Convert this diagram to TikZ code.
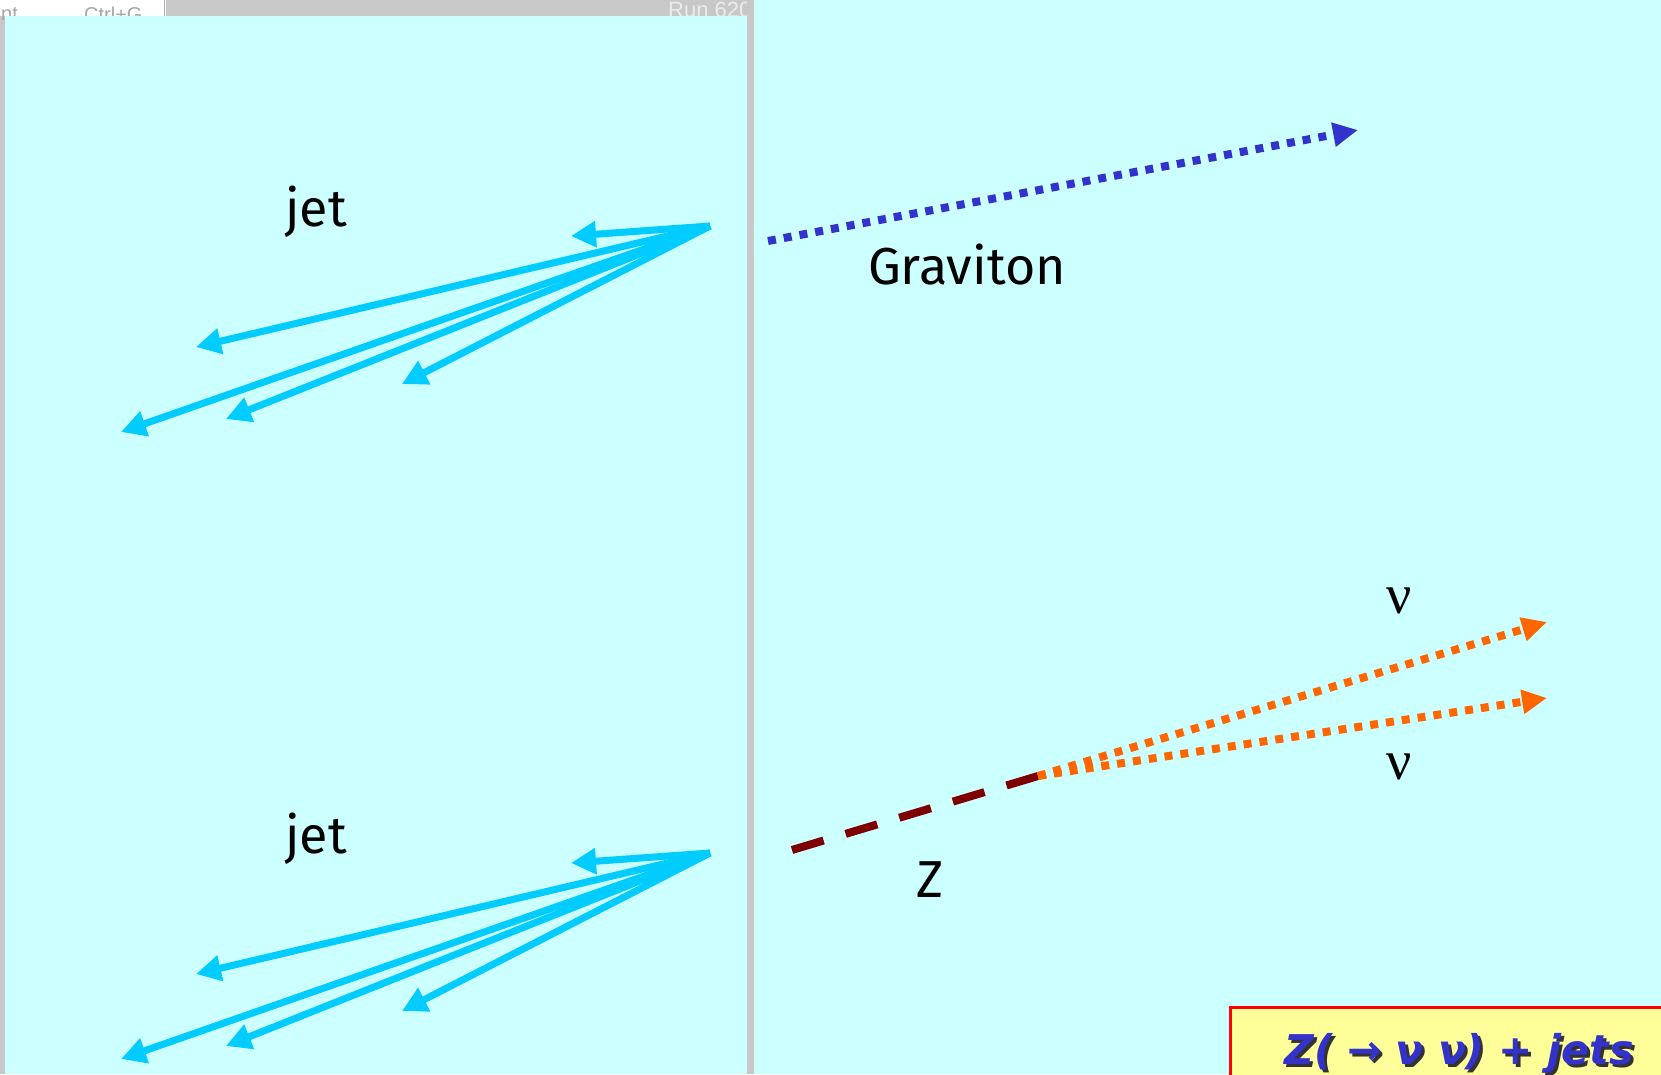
\documentclass[tikz,border=0pt]{standalone}
\usepackage{fontspec}
\usetikzlibrary{arrows.meta}
\newfontfamily\comicfont{Fira Sans}
\newfontfamily\nufont{Liberation Serif}
\newfontfamily\boxfont{DejaVu Sans}
\newfontfamily\uifont{Liberation Sans}
\definecolor{panelcyan}{HTML}{CCFFFF}
\definecolor{jetblue}{HTML}{00CCFF}
\definecolor{gravblue}{HTML}{3333CC}
\definecolor{nuorange}{HTML}{FF6600}
\definecolor{zred}{HTML}{7F0000}
\definecolor{boxyellow}{HTML}{FFFF99}
\definecolor{screengray}{HTML}{C8C8C8}

\tikzset{
    jetarrow/.style={jetblue, line width=7pt, -{Triangle[length=25pt,width=25pt]}},
    dotarrow/.style={line width=8pt, dash pattern=on 8pt off 8pt,
        -{Triangle[length=25pt,width=23pt]}},
    partname/.style={font=\comicfont\fontsize{52}{60}\selectfont, inner sep=0pt},
    nuname/.style={font=\nufont\fontsize{56}{60}\selectfont, inner sep=0pt},
}

\begin{document}
\begin{tikzpicture}[x=1pt, y=-1pt]
    \useasboundingbox (0,0) rectangle (1661,1074);
    % screen behind the slide
    \fill[white] (0,0) rectangle (1661,1074);
    \fill[screengray] (166,0) rectangle (747,16);
    \fill[screengray] (0,16) rectangle (5,1074);
    \draw[gray!60, line width=1pt] (164,0) -- (164,16);
    \node[anchor=north west, inner sep=0pt, text=gray!70,
        font=\uifont\fontsize{20}{22}\selectfont] (ctrltext) at (84,7) {Ctrl+G};
    \node[anchor=north west, inner sep=0pt, text=gray!70,
        font=\uifont\fontsize{20}{22}\selectfont] (menutext) at (1,7) {nt};
    \node[anchor=north west, inner sep=0pt, text=white!85!gray,
        font=\uifont\fontsize{22}{24}\selectfont] (runtext) at (668,2) {Run 6200};
    % the two panels
    \fill[panelcyan] (5,16) rectangle (747,1074);
    \fill[panelcyan] (754,0) rectangle (1661,1074);
    \fill[screengray] (747,0) rectangle (754,1074);

    % jets
    \coordinate (jetA) at (710,226);
    \coordinate (jetB) at (710,853);
    \foreach \dx/\dy [count=\i] in {-139/10, -514/121, -589/206, -484/193, -308/158} {
        \path (jetA) ++(\dx,\dy) coordinate (jetAtip\i);
        \path (jetB) ++(\dx,\dy) coordinate (jetBtip\i);
        \draw[jetarrow] (jetA) -- (jetAtip\i);
        \draw[jetarrow] (jetB) -- (jetBtip\i);
    }
    \node[partname] (jetAname) at (316,212) {jet};
    \node[partname] (jetBname) at (316,839) {jet};

    % graviton
    \coordinate (gravstart) at (768,241);
    \coordinate (gravend) at (1358,130);
    \draw[dotarrow, gravblue] (gravstart) -- (gravend);
    \node[partname] (gravname) at (967,265) {Graviton};

    % Z and the two neutrinos
    \coordinate (zstart) at (792,850);
    \coordinate (zdecay) at (1038,776);
    \draw[zred, line width=8pt, dash pattern=on 33pt off 23pt] (zstart) -- (zdecay);
    \node[partname] (zname) at (930,880) {Z};
    \coordinate (nuAend) at (1547,622);
    \coordinate (nuBend) at (1547,698);
    \draw[dotarrow, nuorange] (zdecay) -- (nuAend);
    \draw[dotarrow, nuorange] (zdecay) -- (nuBend);
    \node[nuname] (nuAname) at (1399,601) {ν};
    \node[nuname] (nuBname) at (1399,767) {ν};

    % process box
    \draw[red, line width=3pt, fill=boxyellow] (1230,1007) rectangle (1680,1090);
    \node[anchor=base, inner sep=0pt, text=black!80,
        font=\boxfont\bfseries\itshape\fontsize{41}{48}\selectfont]
        (procshadow) at (1462,1067) {Z( → ν ν) + jets};
    \node[anchor=base, inner sep=0pt, text=gravblue,
        font=\boxfont\bfseries\itshape\fontsize{41}{48}\selectfont]
        (proctext) at (1459,1064) {Z( → ν ν) + jets};
\end{tikzpicture}
\end{document}
